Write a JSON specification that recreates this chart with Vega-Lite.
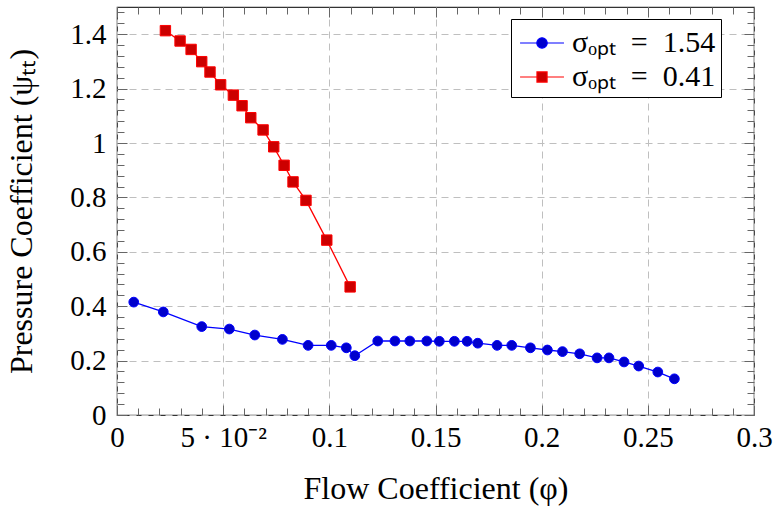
{
  "$schema": "https://vega.github.io/schema/vega-lite/v6.json",
  "width": 637,
  "height": 408,
  "autosize": {"type": "none"},
  "padding": {"left": 117, "top": 7, "right": 22, "bottom": 96},
  "background": "white",
  "config": {
    "view": {"stroke": "#333333", "strokeWidth": 1.2},
    "font": "Liberation Serif",
    "axis": {
      "labelFont": "Liberation Serif", "labelFontSize": 29, "labelColor": "#000000",
      "titleFont": "Liberation Serif", "titleFontSize": 32, "titleFontWeight": "normal", "titleColor": "#000000",
      "domain": false, "tickColor": "#666666", "tickWidth": 1,
      "gridColor": "#bfbfbf", "gridDash": [7, 5], "gridWidth": 1,
      "labelFlush": false, "labelOverlap": false
    }
  },
  "datasets": {
    "blue": [
      {"phi": 0.0079, "psi": 0.415}, {"phi": 0.0218, "psi": 0.379}, {"phi": 0.0399, "psi": 0.325},
      {"phi": 0.0529, "psi": 0.316}, {"phi": 0.0649, "psi": 0.294}, {"phi": 0.0779, "psi": 0.278},
      {"phi": 0.0900, "psi": 0.256}, {"phi": 0.1009, "psi": 0.256}, {"phi": 0.1080, "psi": 0.247},
      {"phi": 0.1120, "psi": 0.218}, {"phi": 0.1228, "psi": 0.272}, {"phi": 0.1309, "psi": 0.272},
      {"phi": 0.1379, "psi": 0.272}, {"phi": 0.1459, "psi": 0.272}, {"phi": 0.1518, "psi": 0.271},
      {"phi": 0.1589, "psi": 0.271}, {"phi": 0.1649, "psi": 0.271}, {"phi": 0.1699, "psi": 0.264},
      {"phi": 0.1790, "psi": 0.256}, {"phi": 0.1859, "psi": 0.256}, {"phi": 0.1947, "psi": 0.247},
      {"phi": 0.2027, "psi": 0.239}, {"phi": 0.2098, "psi": 0.233}, {"phi": 0.2179, "psi": 0.225},
      {"phi": 0.2261, "psi": 0.210}, {"phi": 0.2317, "psi": 0.210}, {"phi": 0.2388, "psi": 0.195},
      {"phi": 0.2457, "psi": 0.180}, {"phi": 0.2547, "psi": 0.158}, {"phi": 0.2625, "psi": 0.133}
    ],
    "red": [
      {"phi": 0.0228, "psi": 1.413}, {"phi": 0.0297, "psi": 1.375}, {"phi": 0.0349, "psi": 1.344},
      {"phi": 0.0399, "psi": 1.299}, {"phi": 0.0438, "psi": 1.261}, {"phi": 0.0488, "psi": 1.214},
      {"phi": 0.0548, "psi": 1.176}, {"phi": 0.0589, "psi": 1.137}, {"phi": 0.0630, "psi": 1.093},
      {"phi": 0.0688, "psi": 1.048}, {"phi": 0.0738, "psi": 0.986}, {"phi": 0.0787, "psi": 0.918},
      {"phi": 0.0829, "psi": 0.857}, {"phi": 0.0890, "psi": 0.789}, {"phi": 0.0988, "psi": 0.643},
      {"phi": 0.1098, "psi": 0.471}
    ]
  },
  "layer": [
    {
      "data": {"name": "blue"},
      "mark": {"type": "line", "color": "#0000ff", "strokeWidth": 1.3},
      "encoding": {
        "x": {"field": "phi", "type": "quantitative", "scale": {"domain": [0, 0.3], "nice": false, "zero": false},
          "axis": {"orient": "bottom", "values": [0, 0.05, 0.1, 0.15, 0.2, 0.25, 0.3], "tickSize": -10, "labelPadding": 18,
            "labelFont": "Liberation Serif", "labelFontSize": 29,
            "grid": true, "title": "Flow Coefficient (φ)", "titlePadding": 21,
            "labelExpr": "datum.value == 0.05 ? '5 · 10⁻²' : format(datum.value, '~g')"}},
        "y": {"field": "psi", "type": "quantitative", "scale": {"domain": [0, 1.5], "nice": false},
          "axis": {"orient": "left", "values": [0, 0.2, 0.4, 0.6, 0.8, 1, 1.2, 1.4], "tickSize": -10, "labelPadding": 21,
            "labelFont": "Liberation Serif", "labelFontSize": 29,
            "grid": true, "title": "Pressure Coefficient (ψₜₜ)", "titlePadding": 31, "format": "~g"}}
      }
    },
    {
      "data": {"name": "red"},
      "mark": {"type": "line", "color": "#ff0000", "strokeWidth": 1.3},
      "encoding": {
        "x": {"field": "phi", "type": "quantitative", "scale": {"domain": [0, 0.3], "nice": false, "zero": false},
          "axis": {"orient": "bottom", "values": [0.01,0.02,0.03,0.04,0.06,0.07,0.08,0.09,0.11,0.12,0.13,0.14,0.16,0.17,0.18,0.19,0.21,0.22,0.23,0.24,0.26,0.27,0.28,0.29],
            "tickSize": -7, "labels": false, "grid": false, "title": null}},
        "y": {"field": "psi", "type": "quantitative", "scale": {"domain": [0, 1.5], "nice": false},
          "axis": {"orient": "left", "values": [0.04,0.08,0.12,0.16,0.24,0.28,0.32,0.36,0.44,0.48,0.52,0.56,0.64,0.68,0.72,0.76,0.84,0.88,0.92,0.96,1.04,1.08,1.12,1.16,1.24,1.28,1.32,1.36,1.44,1.48],
            "tickSize": -7, "labels": false, "grid": false, "title": null}}
      }
    },
    {
      "data": {"name": "blue"},
      "mark": {"type": "point", "shape": "circle", "filled": true, "fill": "#0000cc", "stroke": "#0000ff", "strokeWidth": 1, "opacity": 1, "size": 95},
      "encoding": {
        "x": {"field": "phi", "type": "quantitative", "scale": {"domain": [0, 0.3], "nice": false, "zero": false},
          "axis": {"orient": "top", "values": [0, 0.05, 0.1, 0.15, 0.2, 0.25, 0.3], "tickSize": -10, "labels": false, "grid": false, "title": null}},
        "y": {"field": "psi", "type": "quantitative", "scale": {"domain": [0, 1.5], "nice": false},
          "axis": {"orient": "right", "values": [0, 0.2, 0.4, 0.6, 0.8, 1, 1.2, 1.4], "tickSize": -10, "labels": false, "grid": false, "title": null}}
      }
    },
    {
      "data": {"name": "red"},
      "mark": {"type": "point", "shape": "square", "filled": true, "fill": "#cc0000", "stroke": "#ff0000", "strokeWidth": 1, "opacity": 1, "size": 108},
      "encoding": {
        "x": {"field": "phi", "type": "quantitative", "scale": {"domain": [0, 0.3], "nice": false, "zero": false},
          "axis": {"orient": "top", "values": [0.01,0.02,0.03,0.04,0.06,0.07,0.08,0.09,0.11,0.12,0.13,0.14,0.16,0.17,0.18,0.19,0.21,0.22,0.23,0.24,0.26,0.27,0.28,0.29],
            "tickSize": -7, "labels": false, "grid": false, "title": null}},
        "y": {"field": "psi", "type": "quantitative", "scale": {"domain": [0, 1.5], "nice": false},
          "axis": {"orient": "right", "values": [0.04,0.08,0.12,0.16,0.24,0.28,0.32,0.36,0.44,0.48,0.52,0.56,0.64,0.68,0.72,0.76,0.84,0.88,0.92,0.96,1.04,1.08,1.12,1.16,1.24,1.28,1.32,1.36,1.44,1.48],
            "tickSize": -7, "labels": false, "grid": false, "title": null}}
      }
    },
    {
      "data": {"values": []},
      "mark": {"type": "point", "filled": true, "strokeWidth": 1.2, "opacity": 1},
      "encoding": {
        "x": {"field": "phi", "type": "quantitative", "scale": {"domain": [0, 0.3], "nice": false, "zero": false}, "axis": null},
        "y": {"field": "psi", "type": "quantitative", "scale": {"domain": [0, 1.5], "nice": false}, "axis": null},
        "shape": {"field": "series", "type": "nominal",
          "scale": {"domain": ["1.54", "0.41"], "range": [
            "M-0.83,0H0.10M0.68,0H1.61M0.68,0A0.29,0.29,0,1,1,0.10,0A0.29,0.29,0,1,1,0.68,0Z",
            "M-0.83,0H0.11M0.67,0H1.61M0.11,-0.28H0.67V0.28H0.11Z"]},
          "legend": {"title": null, "orient": "none", "legendX": 394, "legendY": 12, "padding": 5,
            "strokeColor": "#000000", "fillColor": "#ffffff", "cornerRadius": 0,
            "symbolSize": 1296, "symbolStrokeWidth": 1.2,
            "labelFont": "Liberation Serif", "labelFontSize": 30, "labelColor": "#000000", "labelOffset": 18,
            "rowPadding": 0, "labelLimit": 0,
            "labelExpr": "'σₒₚₜ\u2002=\u2002' + datum.label"}},
        "fill": {"field": "series", "type": "nominal",
          "scale": {"domain": ["1.54", "0.41"], "range": ["#0000cc", "#cc0000"]}},
        "stroke": {"field": "series", "type": "nominal",
          "scale": {"domain": ["1.54", "0.41"], "range": ["#0000ff", "#ff0000"]}}
      }
    }
  ],
  "resolve": {"axis": {"x": "independent", "y": "independent"}}
}
